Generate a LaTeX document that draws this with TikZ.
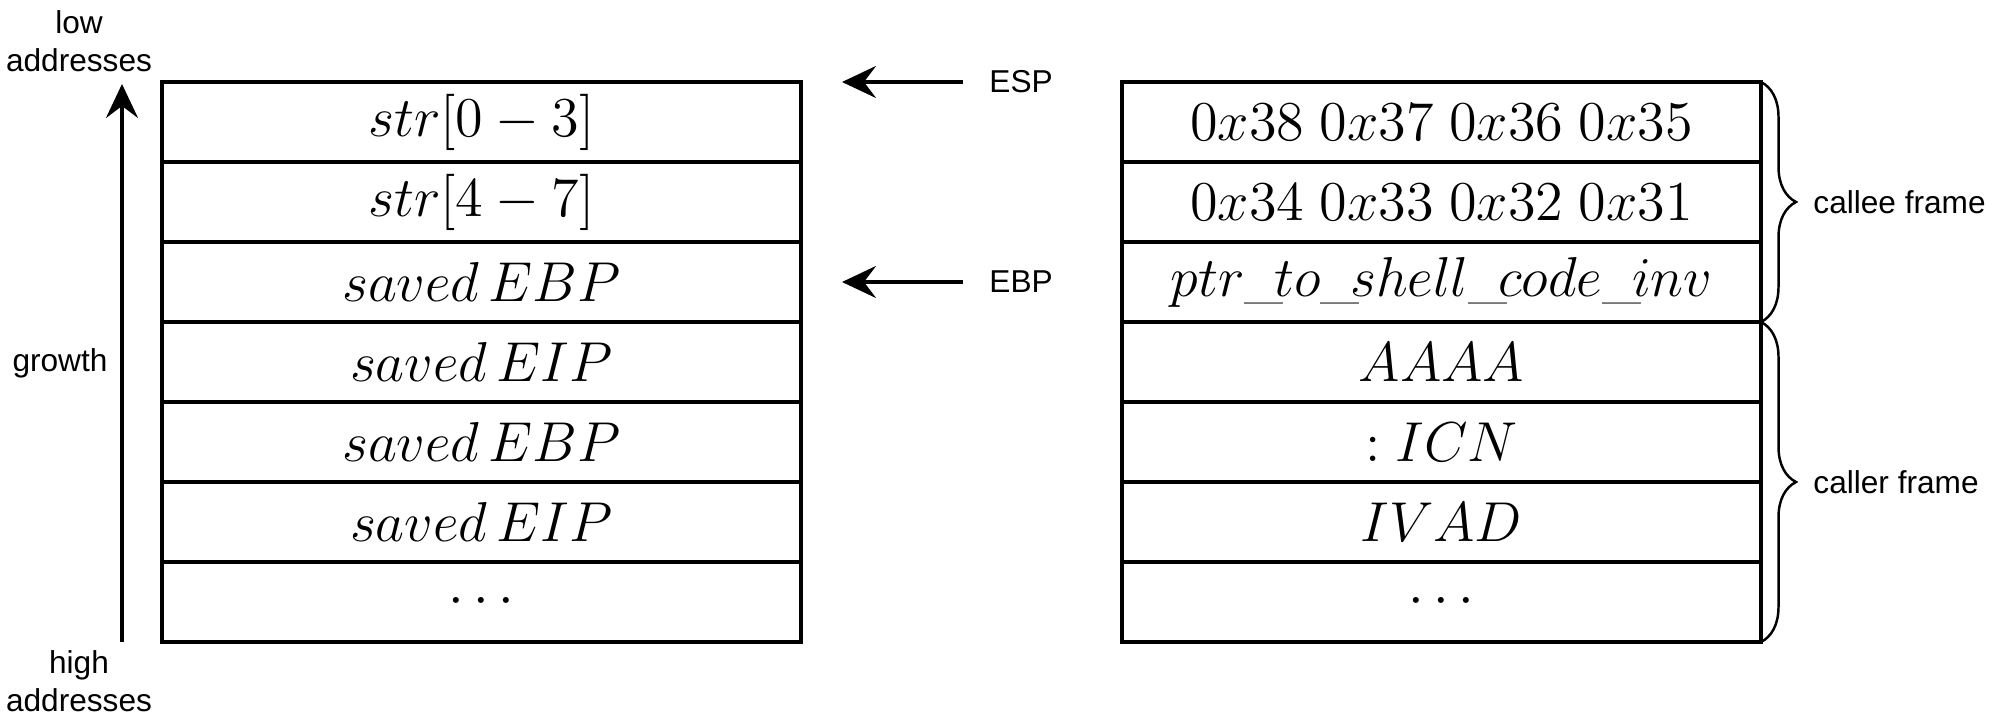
\RequirePackage{fix-cm}
\documentclass[tikz,border=0pt]{standalone}
\usepackage{fontspec}
\setsansfont{Liberation Sans}
\usetikzlibrary{positioning,arrows.meta,decorations.pathreplacing}

\begin{document}
\begin{tikzpicture}[node distance=0pt,
    slot/.style={draw, line width=0.9pt, minimum width=6.39cm, minimum height=0.8cm,
      outer sep=0pt, inner sep=0pt, font=\fontsize{16}{19}\selectfont},
    lbl/.style={font=\sffamily\fontsize{9}{10.8}\selectfont, align=center},
    ptr/.style={line width=0.9pt, -{Stealth[length=0.34cm, width=0.32cm, inset=0.12cm]}},
    bracefr/.style={line width=0.7pt, decorate, decoration={brace, amplitude=0.35cm}}]
  \useasboundingbox (0,0) rectangle (20,7.24);

  % stack before the copy
  \node[slot] (s1) at (4.815,6.02) {$str[0-3]$};
  \node[slot, below=of s1] (s2) {$str[4-7]$};
  \node[slot, below=of s2] (s3) {$saved\,EBP$};
  \node[slot, below=of s3] (s4) {$saved\,EIP$};
  \node[slot, below=of s4] (s5) {$saved\,EBP$};
  \node[slot, below=of s5] (s6) {$saved\,EIP$};
  \node[slot, below=of s6] (s7) {$\cdots$};

  % stack after the copy
  \node[slot, right=3.21cm of s1] (m1) {$0x38\;0x37\;0x36\;0x35$};
  \node[slot, below=of m1] (m2) {$0x34\;0x33\;0x32\;0x31$};
  \node[slot, below=of m2] (m3) {$ptr\_\!to\_\!shell\_\!code\_\!inv$};
  \node[slot, below=of m3] (m4) {$AAAA$};
  \node[slot, below=of m4] (m5) {$:ICN$};
  \node[slot, below=of m5] (m6) {$IVAD$};
  \node[slot, below=of m6] (m7) {$\cdots$};

  % growth direction
  \node[lbl] (low) at (0.79,6.83) {low\\addresses};
  \node[lbl] (high) at (0.79,0.43) {high\\addresses};
  \node[lbl] (growth) at (0.60,3.61) {growth};
  \coordinate (gbot) at (1.22,0.82);
  \coordinate (gtop) at (1.22,6.40);
  \draw[ptr] (gbot) -- (gtop);

  % registers
  \coordinate (esptip) at ([xshift=0.41cm]s1.north east);
  \coordinate (ebptip) at ([xshift=0.41cm]s3.east);
  \node[lbl, right=1.35cm of esptip] (esp) {ESP};
  \node[lbl, right=1.35cm of ebptip] (ebp) {EBP};
  \draw[ptr, shorten <=0.14cm] (esp.west) -- (esptip);
  \draw[ptr, shorten <=0.14cm] (ebp.west) -- (ebptip);

  % frames
  \draw[bracefr] (m1.north east) -- (m3.south east);
  \draw[bracefr] (m4.north east) -- (m7.south east);
  \node[lbl, anchor=west] (callee) at ([xshift=0.4cm]m2.east) {callee frame};
  \node[lbl, anchor=west] (caller) at ([xshift=0.4cm]m5.south east) {caller frame};
\end{tikzpicture}
\end{document}
